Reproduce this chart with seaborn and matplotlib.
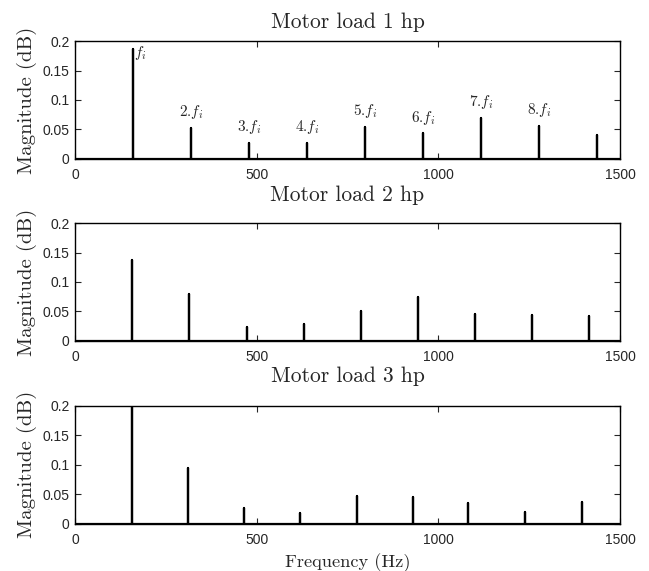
import numpy as np
import pandas as pd
import matplotlib
matplotlib.use("Agg")
import matplotlib.pyplot as plt
import seaborn as sns

# Harmonic peak frequencies (Hz) and magnitudes for each load condition
freq_1hp = [159, 319, 479, 638, 798, 958, 1117, 1277, 1436]
mag_1hp = [0.187, 0.052, 0.027, 0.027, 0.054, 0.043, 0.070, 0.056, 0.040]

freq_2hp = [158, 314, 472, 630, 787, 943, 1101, 1259, 1416]
mag_2hp = [0.137, 0.080, 0.023, 0.029, 0.051, 0.075, 0.045, 0.043, 0.042]

freq_3hp = [156, 311, 465, 619, 775, 929, 1083, 1239, 1395]
mag_3hp = [0.200, 0.094, 0.026, 0.019, 0.047, 0.046, 0.035, 0.020, 0.037]

titles = ["Motor load 1 hp", "Motor load 2 hp", "Motor load 3 hp"]
harmonic_labels = [r"$f_i$", r"2.$f_i$", r"3.$f_i$", r"4.$f_i$", r"5.$f_i$",
                   r"6.$f_i$", r"7.$f_i$", r"8.$f_i$"]
x_ticks = [0, 500, 1000, 1500]
y_ticks = [0, 0.05, 0.1, 0.15, 0.2]
y_tick_labels = ["0", "0.05", "0.1", "0.15", "0.2"]
f_max = 1500


def stem_frame(freqs, mags):
    """Spectrum trace: flat baseline with a vertical spike at each harmonic."""
    xs, ys = [0.0], [0.0]
    for f, m in zip(freqs, mags):
        xs += [f, f, f]
        ys += [0.0, m, 0.0]
    xs.append(f_max)
    ys.append(0.0)
    return pd.DataFrame({"Frequency": xs, "Magnitude": ys,
                         "order": np.arange(len(xs))})


sns.set_style("ticks")
plt.rcParams["mathtext.fontset"] = "cm"
plt.rcParams["axes.unicode_minus"] = False

serif = "cmr10"
sans = "Liberation Sans"

fig = plt.figure(figsize=(6.49, 5.71), dpi=100)
boxes = [
    [0.1156, 0.722, 0.8397, 0.206],
    [0.1156, 0.4033, 0.8397, 0.2057],
    [0.1156, 0.0828, 0.8397, 0.2062],
]
title_pads = [9.5, 16, 17.5]
series = [(freq_1hp, mag_1hp), (freq_2hp, mag_2hp), (freq_3hp, mag_3hp)]

for i, (box, (fr, mg)) in enumerate(zip(boxes, series)):
    ax = fig.add_axes(box)
    df = stem_frame(fr, mg)
    sns.lineplot(data=df, x="Frequency", y="Magnitude", sort=False,
                 estimator=None, color="black", linewidth=1.6, ax=ax)
    ax.set_xlim(0, f_max)
    ax.set_ylim(0, 0.2)
    ax.set_xticks(x_ticks)
    ax.set_xticklabels([str(t) for t in x_ticks], fontfamily=sans, fontsize=10)
    ax.set_yticks(y_ticks)
    ax.set_yticklabels(y_tick_labels, fontfamily=sans, fontsize=10)
    ax.tick_params(direction="in", length=4, width=0.8, top=True, right=True,
                   labeltop=False, labelright=False)
    ax.tick_params(axis="x", pad=7)
    ax.tick_params(axis="y", pad=4)
    for sp in ax.spines.values():
        sp.set_visible(True)
        sp.set_linewidth(1.0)
        sp.set_color("black")
    ax.set_title(titles[i], fontfamily=serif, fontsize=15.5, pad=title_pads[i])
    ax.set_ylabel("Magnitude (dB)", fontfamily=serif, fontsize=15, labelpad=4)
    if i == 2:
        ax.set_xlabel("Frequency (Hz)", fontfamily=serif, fontsize=13.2, labelpad=4)
    else:
        ax.set_xlabel("")

    if i == 0:
        # harmonic annotations on the first spectrum
        ax.text(fr[0] + 2, mg[0] - 0.008, harmonic_labels[0], fontsize=11,
                ha="left", va="center")
        for k in range(1, 8):
            ax.text(fr[k], mg[k] + 0.027, harmonic_labels[k], fontsize=11,
                    fontfamily=serif, ha="center", va="center")

fig.savefig("out.png", dpi=100)
